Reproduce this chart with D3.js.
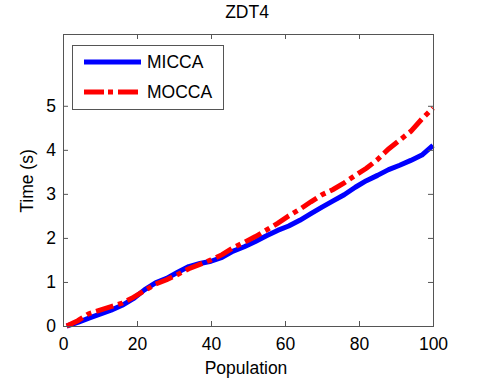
<!DOCTYPE html>
<html>
<head>
<meta charset="utf-8">
<script src="https://cdn.jsdelivr.net/npm/d3@7"></script>
<style>
  body { margin: 0; background: #fff; }
  text { font-family: "Liberation Sans", Arial, sans-serif; }
</style>
</head>
<body>
<svg id="viz" width="480" height="385"></svg>
<script>
const svg = d3.select("#viz");
const width = +svg.attr("width");
const height = +svg.attr("height");
const margin = { top: 34, right: 47, bottom: 59, left: 63 };

const population = [1, 4, 7, 10, 13, 16, 19, 22, 25, 28, 31, 34, 37, 40, 43, 46, 49, 52, 55, 58,
  61, 64, 67, 70, 73, 76, 79, 82, 85, 88, 91, 94, 97, 100];
const micca = [0.0, 0.08, 0.18, 0.27, 0.36, 0.47, 0.62, 0.82, 0.98, 1.08, 1.22, 1.35, 1.42, 1.47, 1.56, 1.70, 1.80, 1.92, 2.05, 2.17,
  2.27, 2.40, 2.55, 2.70, 2.84, 2.98, 3.15, 3.30, 3.42, 3.55, 3.65, 3.76, 3.88, 4.10];
const mocca = [0.0, 0.12, 0.28, 0.36, 0.44, 0.52, 0.65, 0.80, 0.95, 1.05, 1.17, 1.30, 1.40, 1.50, 1.62, 1.78, 1.90, 2.03, 2.18, 2.33,
  2.50, 2.65, 2.82, 2.98, 3.10, 3.25, 3.42, 3.58, 3.78, 4.02, 4.22, 4.42, 4.70, 4.95];
const xTicks = [0, 20, 40, 60, 80, 100];
const yTicks = [0, 1, 2, 3, 4, 5];
const seriesNames = ["MICCA", "MOCCA"];

const x = d3.scaleLinear().domain([0, 100]).range([margin.left, width - margin.right]);
const y = d3.scaleLinear().domain([0, 6.63]).range([height - margin.bottom, margin.top]);

const axisColor = "#555";
const fontSize = "17.5px";
const fontFamily = "Liberation Sans, Arial, sans-serif";

// series
const line = d3.line().x((d, i) => x(population[i])).y(d => y(d));

svg.append("path")
  .datum(micca)
  .attr("fill", "none")
  .attr("stroke", "#0000ff")
  .attr("stroke-width", 5)
  .attr("stroke-linejoin", "round")
  .attr("d", line);

svg.append("path")
  .datum(mocca)
  .attr("fill", "none")
  .attr("stroke", "#ff0000")
  .attr("stroke-width", 5)
  .attr("stroke-dasharray", "18,5,5,5")
  .attr("d", line);

// axes box with inward ticks on all sides
const tickLen = 5;
svg.append("g")
  .attr("transform", `translate(0,${height - margin.bottom})`)
  .call(d3.axisBottom(x).tickValues(xTicks).tickFormat(d3.format("d")).tickSizeInner(-tickLen).tickSizeOuter(0).tickPadding(tickLen + 7))
  .call(g => g.select(".domain").remove())
  .call(g => g.selectAll("line").attr("stroke", axisColor))
  .call(g => g.selectAll("text").attr("font-size", fontSize).attr("fill", "#000").attr("font-family", fontFamily));

svg.append("g")
  .attr("transform", `translate(0,${margin.top})`)
  .call(d3.axisTop(x).tickValues(xTicks).tickSizeInner(-tickLen).tickSizeOuter(0).tickFormat(""))
  .call(g => g.select(".domain").remove())
  .call(g => g.selectAll("line").attr("stroke", axisColor));

svg.append("g")
  .attr("transform", `translate(${margin.left},0)`)
  .call(d3.axisLeft(y).tickValues(yTicks).tickFormat(d3.format("d")).tickSizeInner(-tickLen).tickSizeOuter(0).tickPadding(tickLen + 2))
  .call(g => g.select(".domain").remove())
  .call(g => g.selectAll("line").attr("stroke", axisColor))
  .call(g => g.selectAll("text").attr("font-size", fontSize).attr("fill", "#000").attr("font-family", fontFamily));

svg.append("g")
  .attr("transform", `translate(${width - margin.right},0)`)
  .call(d3.axisRight(y).tickValues(yTicks).tickSizeInner(-tickLen).tickSizeOuter(0).tickFormat(""))
  .call(g => g.select(".domain").remove())
  .call(g => g.selectAll("line").attr("stroke", axisColor));

svg.append("rect")
  .attr("x", margin.left + 0.5)
  .attr("y", margin.top + 0.5)
  .attr("width", width - margin.left - margin.right)
  .attr("height", height - margin.top - margin.bottom)
  .attr("fill", "none")
  .attr("stroke", axisColor);

// labels
svg.append("text")
  .attr("x", 247).attr("y", 18)
  .attr("text-anchor", "middle")
  .attr("font-size", fontSize)
  .text("ZDT4");

svg.append("text")
  .attr("x", 246).attr("y", 374)
  .attr("text-anchor", "middle")
  .attr("font-size", fontSize)
  .text("Population");

svg.append("text")
  .attr("transform", "translate(33,181) rotate(-90)")
  .attr("text-anchor", "middle")
  .attr("font-size", fontSize)
  .text("Time (s)");

// legend
const legend = svg.append("g");
legend.append("rect")
  .attr("x", 72.5).attr("y", 45.5)
  .attr("width", 151).attr("height", 64)
  .attr("fill", "#fff")
  .attr("stroke", axisColor);

const legendStyles = [
  { color: "#0000ff", dash: null },
  { color: "#ff0000", dash: "20,4,5,5" }
];
seriesNames.forEach((name, i) => {
  const ly = 62 + i * 30;
  legend.append("line")
    .attr("x1", 84).attr("x2", 141)
    .attr("y1", ly).attr("y2", ly)
    .attr("stroke", legendStyles[i].color)
    .attr("stroke-width", 5)
    .attr("stroke-dasharray", legendStyles[i].dash);
  legend.append("text")
    .attr("x", 147).attr("y", ly + 6)
    .attr("font-size", fontSize)
    .text(name);
});
</script>
</body>
</html>
